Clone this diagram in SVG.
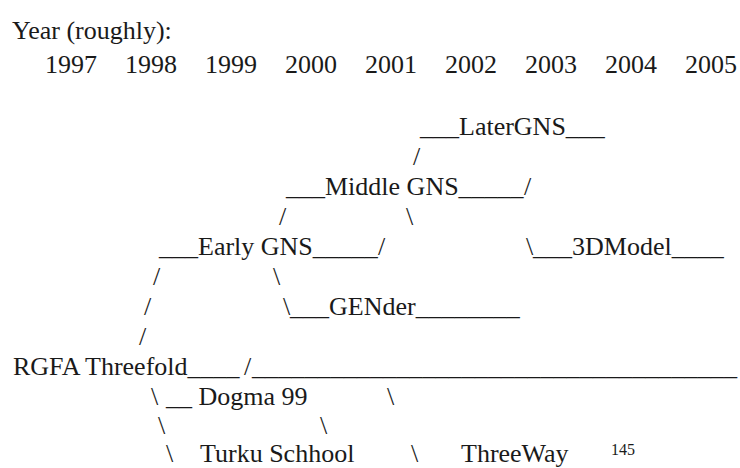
<svg xmlns="http://www.w3.org/2000/svg" width="740" height="468" viewBox="0 0 740 468" font-family="'Liberation Serif', 'DejaVu Serif', serif">
<style>
text{font-family:'Liberation Serif','DejaVu Serif',serif;font-size:26px;fill:#1a1a1a}
.pg{font-size:16px}
</style>
<rect width="740" height="468" fill="#fff"/>
<g id="header">
<text x="12" y="39">Year (roughly):</text>
<text x="45" y="73">1997</text>
<text x="125" y="73">1998</text>
<text x="205" y="73">1999</text>
<text x="285" y="73">2000</text>
<text x="365" y="73">2001</text>
<text x="445" y="73">2002</text>
<text x="525" y="73">2003</text>
<text x="605" y="73">2004</text>
<text x="685" y="73">2005</text>
</g>
<g id="connectors">
<text x="413" y="165">/</text>
<text x="524" y="195">/</text>
<text x="279" y="225">/</text>
<text x="406" y="225">\</text>
<text x="378" y="255">/</text>
<text x="526" y="255">\</text>
<text x="153" y="285">/</text>
<text x="273" y="285">\</text>
<text x="144" y="315">/</text>
<text x="283" y="315">\</text>
<text x="139" y="345">/</text>
<text x="244" y="375">/</text>
<text x="151" y="405">\</text>
<text x="387" y="405">\</text>
<text x="158" y="434">\</text>
<text x="320" y="434">\</text>
<text x="166" y="462">\</text>
<text x="411" y="462">\</text>
</g>
<g id="later-gns"><text x="420" y="135">___LaterGNS___</text></g>
<g id="middle-gns"><text x="286" y="195">___Middle GNS_____</text></g>
<g id="early-gns"><text x="159" y="255">___Early GNS_____</text></g>
<g id="model-3d"><text x="533" y="255">___3DModel____</text></g>
<g id="gender"><text x="290" y="315">___GENder________</text></g>
<g id="rgfa-threefold"><text x="13" y="375">RGFA Threefold____</text><text x="252" y="375" textLength="485" lengthAdjust="spacingAndGlyphs">_____________________________________</text></g>
<g id="dogma-99"><text x="166" y="405">__ Dogma 99</text></g>
<g id="turku-school"><text x="200" y="462">Turku Schhool</text></g>
<g id="threeway"><text x="461" y="462">ThreeWay</text></g>
<g id="page-number"><text class="pg" x="611" y="455">145</text></g>
</svg>
